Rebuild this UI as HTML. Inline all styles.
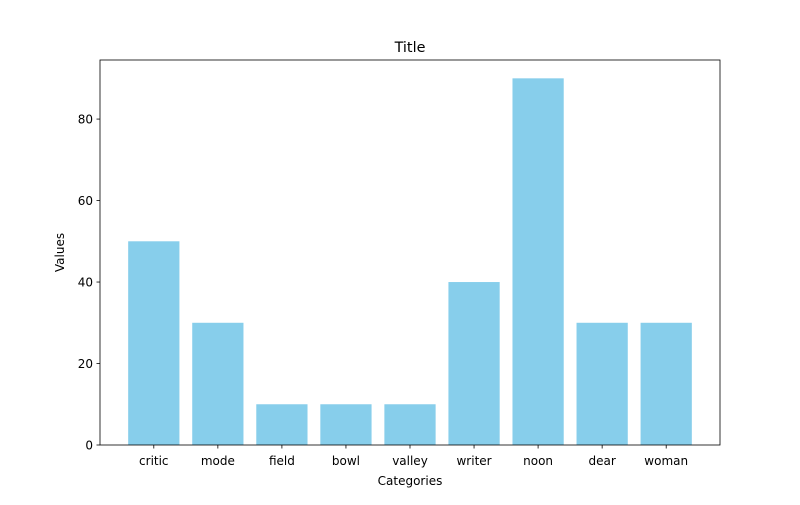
<!DOCTYPE html>
<html><head><meta charset="utf-8"><style>
body{margin:0;background:#fff;}
svg text{font-family:"DejaVu Sans","Liberation Sans",sans-serif;fill:#000;}
</style></head><body>
<svg id="chart" width="800" height="500" viewBox="0 0 800 500" xmlns="http://www.w3.org/2000/svg">
<rect width="800" height="500" fill="#fff"/>
<text x="410" y="52" font-size="14.4" text-anchor="middle">Title</text>
<g id="bars"></g>
<g id="xticks"></g>
<g id="yticks"></g>
<rect x="100" y="60" width="620" height="385" fill="none" stroke="#000" stroke-width="0.8"/>
<text x="410" y="485" font-size="12" text-anchor="middle">Categories</text>
<text transform="translate(64,252.5) rotate(-90)" font-size="12" text-anchor="middle">Values</text>
</svg>
<script>
const categories=["critic","mode","field","bowl","valley","writer","noon","dear","woman"];
const values=[50,30,10,10,10,40,90,30,30];
const yTicks=[0,20,40,60,80];
const L=100,R=720,T=60,B=445;
const ns="http://www.w3.org/2000/svg";
const yMax=Math.max(...values)*1.05;
const xMin=-0.84,xMax=categories.length-1+0.84;
function xs(v){return L+(v-xMin)/(xMax-xMin)*(R-L);}
function ys(v){return B-v/yMax*(B-T);}
function mk(tag,attrs,parent){const e=document.createElementNS(ns,tag);for(const k in attrs)e.setAttribute(k,attrs[k]);parent.appendChild(e);return e;}
const bars=document.getElementById('bars'),xt=document.getElementById('xticks'),yt=document.getElementById('yticks');
categories.forEach((c,i)=>{
  const x0=xs(i-0.4),x1=xs(i+0.4);
  const r=mk('rect',{x:x0,y:ys(values[i]),width:x1-x0,height:B-ys(values[i]),fill:'#87ceeb'},bars);
  
  
  const l=mk('line',{x1:xs(i),x2:xs(i),y1:B,y2:B+3.5,stroke:'#000','stroke-width':0.8},xt);
  
  
  const t=mk('text',{x:xs(i),y:B+20,'font-size':12,'text-anchor':'middle'},xt);
  t.textContent=c;
  
  
});
yTicks.forEach(v=>{
  const l=mk('line',{x1:L-3.5,x2:L,y1:ys(v),y2:ys(v),stroke:'#000','stroke-width':0.8},yt);
  
  
  const t=mk('text',{x:L-7,y:ys(v)+4.5,'font-size':12,'text-anchor':'end'},yt);
  t.textContent=v;
  
  
});
</script>
</body></html>
